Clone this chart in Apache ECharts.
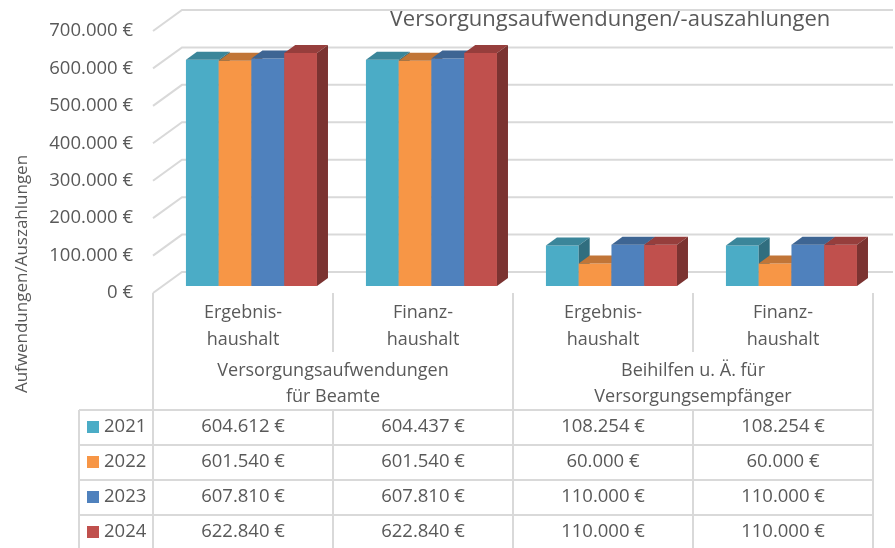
<!DOCTYPE html>
<html><head><meta charset="utf-8">
<script src="https://cdn.jsdelivr.net/npm/echarts@6/dist/echarts.min.js"></script>
<style>html,body{margin:0;padding:0;background:#fff}#c{width:895px;height:548px}</style>
</head><body><div id="c"></div>
<script>
const categories = ['Ergebnis-\nhaushalt', 'Finanz-\nhaushalt', 'Ergebnis-\nhaushalt', 'Finanz-\nhaushalt'];
const groups = ['Versorgungsaufwendungen\nfür Beamte', 'Beihilfen u. Ä. für\nVersorgungsempfänger'];
const years = ['2021', '2022', '2023', '2024'];
const v2021 = [604612, 604437, 108254, 108254];
const v2022 = [601540, 601540, 60000, 60000];
const v2023 = [607810, 607810, 110000, 110000];
const v2024 = [622840, 622840, 110000, 110000];
const yTicks = [0, 100000, 200000, 300000, 400000, 500000, 600000, 700000];
const titleText = 'Versorgungsaufwendungen/-auszahlungen';
const yTitle = 'Aufwendungen/Auszahlungen';

const seriesValues = [v2021, v2022, v2023, v2024];
const colors = ['#4BACC6', '#F79646', '#4F81BD', '#C0504D'];
const FONT = '"Open Sans", sans-serif';
const TXT = '#595959';
const LINE = '#d9d9d9';

function shade(hex, f) {
  const n = parseInt(hex.slice(1), 16);
  const r = Math.round(((n >> 16) & 255) * f), g = Math.round(((n >> 8) & 255) * f), b = Math.round((n & 255) * f);
  return 'rgb(' + r + ',' + g + ',' + b + ')';
}
function fmt(v) {
  return String(v).replace(/\B(?=(\d{3})+(?!\d))/g, '.') + ' €';
}

const chart = echarts.init(document.getElementById('c'), null, {renderer: 'canvas'});

function barRender(s) {
  return function (params, api) {
    const ci = api.value(0), v = api.value(1);
    const top = api.coord([ci, v]);
    const base = api.coord([ci, 0]);
    const band = api.size([1, 0])[0];
    const bw = band * 0.182;
    const ox = band * 0.047, oy = -7;
    const x0 = top[0] + ox + (s - 2) * bw;
    const yT = top[1] + oy, yB = base[1] + oy;
    const dx = 11, dy = -8;
    const c = colors[s];
    return {
      type: 'group', children: [
        {type: 'rect', shape: {x: x0, y: yT, width: bw, height: yB - yT}, style: {fill: c}},
        {type: 'polygon', shape: {points: [[x0, yT], [x0 + dx, yT + dy], [x0 + bw + dx, yT + dy], [x0 + bw, yT]]}, style: {fill: shade(c, 0.78)}},
        {type: 'polygon', shape: {points: [[x0 + bw, yT], [x0 + bw + dx, yT + dy], [x0 + bw + dx, yB + dy], [x0 + bw, yB]]}, style: {fill: shade(c, 0.64)}}
      ]
    };
  };
}

function tableRender(s) {
  return function (params, api) {
    const ci = api.value(0), v = api.value(1);
    const base = api.coord([ci, 0]);
    const y = base[1] + 134 + 35 * s;
    const children = [{
      type: 'text', style: {x: base[0], y: y, text: fmt(v), fill: TXT, font: '18.5px ' + FONT, textAlign: 'center', textVerticalAlign: 'middle'}
    }];
    if (ci === 0) {
      children.push({type: 'rect', shape: {x: 87, y: y - 6, width: 12, height: 12}, style: {fill: colors[s]}});
      children.push({type: 'text', style: {x: 104, y: y, text: years[s], fill: TXT, font: '18.5px ' + FONT, textAlign: 'left', textVerticalAlign: 'middle'}});
    }
    return {type: 'group', children: children};
  };
}

function gridRender(params, api) {
  const v = api.value(1);
  const p = api.coord([0, v]);
  const left = params.coordSys.x;
  return {
    type: 'polyline',
    shape: {points: [[left, p[1]], [left + 29, p[1] - 21], [api.getWidth() - 2, p[1] - 21]]},
    style: {stroke: LINE, lineWidth: 2, fill: null}
  };
}

function frameRender(params, api) {
  const cs = params.coordSys;
  const base = api.coord([0, 0]);
  const band = api.size([1, 0])[0];
  const top = base[1] + 117;
  const rows = 4, rh = 35;
  const right = cs.x + cs.width;
  const ch = [];
  for (let k = 0; k <= rows; k++) {
    ch.push({type: 'line', shape: {x1: 79, y1: top + k * rh, x2: right, y2: top + k * rh}, style: {stroke: LINE, lineWidth: 2}});
  }
  ch.push({type: 'line', shape: {x1: 79, y1: top, x2: 79, y2: top + rows * rh}, style: {stroke: LINE, lineWidth: 2}});
  for (let k = 0; k <= categories.length; k++) {
    const x = cs.x + k * band;
    ch.push({type: 'line', shape: {x1: x, y1: top, x2: x, y2: top + rows * rh}, style: {stroke: LINE, lineWidth: 2}});
  }
  return {type: 'group', children: ch};
}

const series = [];
series.push({type: 'custom', name: 'grid', z: 1, silent: true, renderItem: gridRender, data: yTicks.map(v => [0, v])});
series.push({type: 'custom', name: 'frame', z: 1, silent: true, renderItem: frameRender, data: [[0, 0]]});
seriesValues.forEach((vals, s) => {
  series.push({type: 'custom', name: years[s], z: 3, renderItem: barRender(s), data: vals.map((v, i) => [i, v])});
});
seriesValues.forEach((vals, s) => {
  series.push({type: 'custom', name: years[s] + ' table', z: 3, silent: true, renderItem: tableRender(s), data: vals.map((v, i) => [i, v])});
});

chart.setOption({
  animation: false,
  backgroundColor: '#fff',
  textStyle: {fontFamily: FONT},
  grid: {left: 153, right: 22, top: 31, bottom: 255, containLabel: false},
  xAxis: [{
    type: 'category', data: categories, position: 'bottom',
    axisLine: {show: false},
    axisTick: {show: true, length: 59, interval: 0, lineStyle: {color: LINE, width: 2}},
    axisLabel: {interval: 0, color: TXT, fontSize: 18, lineHeight: 27, margin: 6, fontFamily: FONT}
  }, {
    type: 'category', data: groups, position: 'bottom', offset: 57,
    axisLine: {show: false},
    axisTick: {show: true, length: 60, interval: 0, lineStyle: {color: LINE, width: 2}},
    axisLabel: {interval: 0, color: TXT, fontSize: 18, lineHeight: 26, margin: 8, fontFamily: FONT}
  }],
  yAxis: {
    type: 'value', min: 0, max: 700000, interval: 100000,
    axisLine: {show: false}, axisTick: {show: false}, splitLine: {show: false},
    axisLabel: {formatter: fmt, color: TXT, fontSize: 18.5, margin: 20, fontFamily: FONT}
  },
  graphic: [
    {type: 'text', x: 610, y: 20, style: {text: titleText, fill: TXT, font: '22px ' + FONT, textAlign: 'center', textVerticalAlign: 'middle'}},
    {type: 'text', x: 22, y: 274, rotation: Math.PI / 2, style: {text: yTitle, fill: TXT, font: '17px ' + FONT, textAlign: 'center', textVerticalAlign: 'middle'}}
  ],
  series: series
});
</script>
</body></html>
